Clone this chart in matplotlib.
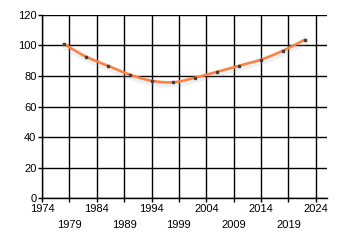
import numpy as np
import matplotlib
matplotlib.use("Agg")
import matplotlib.pyplot as plt
import matplotlib.patheffects as pe

years = np.array([1978, 1982, 1986, 1990, 1994, 1998, 2002, 2006, 2010, 2014, 2018, 2022])
values = np.array([101.0, 92.7, 86.8, 80.9, 76.9, 75.9, 78.9, 82.8, 86.8, 90.7, 96.6, 103.8])
xticks = list(range(1974, 2025, 5))
yticks = [0, 20, 40, 60, 80, 100, 120]


def catmull_rom(x, y, steps=20):
    # smooth line through the points, like a spline series
    px = np.concatenate([[2 * x[0] - x[1]], x, [2 * x[-1] - x[-2]]])
    py = np.concatenate([[2 * y[0] - y[1]], y, [2 * y[-1] - y[-2]]])
    xs, ys = [], []
    t = np.linspace(0, 1, steps, endpoint=False)
    for i in range(1, len(px) - 2):
        for p, out in ((px, xs), (py, ys)):
            p0, p1, p2, p3 = p[i - 1], p[i], p[i + 1], p[i + 2]
            out.extend(0.5 * (2 * p1 + (-p0 + p2) * t
                              + (2 * p0 - 5 * p1 + 4 * p2 - p3) * t ** 2
                              + (-p0 + 3 * p1 - 3 * p2 + p3) * t ** 3))
    xs.append(x[-1])
    ys.append(y[-1])
    return np.array(xs), np.array(ys)


plt.rcParams['font.family'] = ['Liberation Sans', 'DejaVu Sans']

fig = plt.figure(figsize=(3.4, 2.45), dpi=100)
ax = fig.add_axes([0.1235, 0.1918, 0.8375, 0.747])

sx, sy = catmull_rom(years, values)
ax.plot(sx, sy, color='#ff7f40', lw=1.8, solid_capstyle='round', zorder=3,
        path_effects=[pe.SimpleLineShadow(offset=(0.5, -1.2), shadow_color='#aaaaaa',
                                          alpha=0.18, linewidth=5),
                      pe.Normal()])
ax.plot(years, values, ls='none', marker='s', ms=1.5, color='#404040', zorder=4)

ax.set_xlim(1974, 2026)
ax.set_ylim(0, 120)
ax.set_xticks(xticks)
ax.set_xticklabels([str(y) if i % 2 == 0 else '\n' + str(y) for i, y in enumerate(xticks)],
                   linespacing=1.75)
ax.set_yticks(yticks)
ax.tick_params(axis='both', labelsize=8, length=3, width=1, color='black', pad=1)
ax.grid(True, color='black', lw=1)
ax.set_axisbelow(True)
for s in ['top', 'right']:
    ax.spines[s].set_visible(False)
for s in ['left', 'bottom']:
    ax.spines[s].set_linewidth(1)

fig.savefig('out.png', dpi=100)
